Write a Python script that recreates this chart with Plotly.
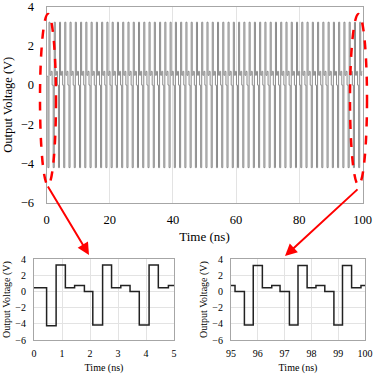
import numpy as np
import plotly.graph_objects as go

# one period of the output waveform
levels = [-4.2, 3.2, 0.5, 0.7, 0.0]
seg_ns = 1 / 3
first_edge = 0.45
start_level = 0.45

# zoomed panel 0-5 ns: step edges and levels
t_left = [0, 0.45, 0.79, 1.12, 1.45, 1.8, 2.1, 2.45, 2.77, 3.1, 3.43, 3.76, 4.11, 4.44, 4.8, 5.0]
v_left = [0.45, -4.25, 3.25, 0.45, 0.72, 0.0, -4.15, 3.25, 0.45, 0.72, 0.0, -4.15, 3.25, 0.45, 0.72, 0.72]

# zoomed panel 95-100 ns
t_right = [95.0, 95.15, 95.5, 95.83, 96.17, 96.52, 96.83, 97.18, 97.5, 97.84, 98.17, 98.5, 98.84, 99.16, 99.5, 99.85, 100.0]
v_right = [0.72, 0.0, -4.15, 3.2, 0.45, 0.72, 0.0, -4.15, 3.2, 0.45, 0.72, 0.0, -4.15, 3.2, 0.45, 0.72, 0.72]

n_seg = int((100 - first_edge) / seg_ns) + 1
t_main = [0.0] + [first_edge + i * seg_ns for i in range(n_seg)] + [100.0]
v_main = [start_level] + [levels[i % len(levels)] for i in range(n_seg)] + [levels[(n_seg - 1) % len(levels)]]

FONT = "Liberation Serif"
W = 374

fig = go.Figure()
fig.add_trace(go.Scatter(x=t_main, y=v_main, mode="lines", line=dict(shape="hv", color="#8c8c8c", width=1),
                         xaxis="x", yaxis="y", hoverinfo="skip"))
fig.add_trace(go.Scatter(x=t_left, y=v_left, mode="lines", line=dict(shape="hv", color="#222", width=1.5),
                         xaxis="x2", yaxis="y2"))
fig.add_trace(go.Scatter(x=t_right, y=v_right, mode="lines", line=dict(shape="hv", color="#222", width=1.5),
                         xaxis="x3", yaxis="y3"))

def px_x(p):
    return p / W

def px_y(p):
    return 1 - p / W

axis_common = dict(showline=True, linecolor="#a6a6a6", linewidth=1, mirror=True, zeroline=False,
                   gridcolor="#e3e3e3", ticks="", color="#000", automargin=False,
                   ticklabeloverflow="allow")

fig.update_layout(
    width=W, height=W, margin=dict(l=0, r=0, t=0, b=0, autoexpand=False),
    paper_bgcolor="white", plot_bgcolor="white", showlegend=False,
    font=dict(family=FONT, size=11, color="#000"),
    xaxis=dict(domain=[px_x(46.5), px_x(362.5)], range=[0, 100], dtick=20, showgrid=True, anchor="y",
               title=dict(text="Time (ns)", font=dict(size=13), standoff=5), tickfont=dict(size=12.5),
               ticklabelstandoff=5, **axis_common),
    yaxis=dict(domain=[px_y(203), px_y(6.5)], range=[-6, 4], dtick=2, showgrid=False, anchor="x",
               title=dict(text="Output Voltage (V)", font=dict(size=12.5), standoff=5), tickfont=dict(size=12.5),
               ticklabelstandoff=9, **axis_common),
    xaxis2=dict(domain=[px_x(34), px_x(174)], range=[0, 5], dtick=1, showgrid=True, anchor="y2",
                title=dict(text="Time (ns)", font=dict(size=10), standoff=5), tickfont=dict(size=10),
                ticklabelstandoff=4, **axis_common),
    yaxis2=dict(domain=[px_y(340), px_y(259)], range=[-6, 4], dtick=2, showgrid=True, anchor="x2",
                title=dict(text="Output Voltage (V)", font=dict(size=10), standoff=2), tickfont=dict(size=10),
                ticklabelstandoff=5, **axis_common),
    xaxis3=dict(domain=[px_x(231), px_x(365)], range=[95, 100], dtick=1, showgrid=True, anchor="y3",
                title=dict(text="Time (ns)", font=dict(size=10), standoff=5), tickfont=dict(size=10),
                ticklabelstandoff=4, **axis_common),
    yaxis3=dict(domain=[px_y(340), px_y(259)], range=[-6, 4], dtick=2, showgrid=True, anchor="x3",
                title=dict(text="Output Voltage (V)", font=dict(size=10), standoff=2), tickfont=dict(size=10),
                ticklabelstandoff=5, **axis_common),
)

red = "#ff0000"
for x0, x1 in [(40, 56), (350, 367)]:
    fig.add_shape(type="circle", xref="paper", yref="paper",
                  x0=px_x(x0), x1=px_x(x1), y0=px_y(185), y1=px_y(14),
                  line=dict(color=red, width=2.5, dash="dash"))

# arrows from ellipses to the zoomed panels
for head, tail in [((89, 255), (47, 185)), ((285, 256), (359, 188))]:
    fig.add_annotation(x=px_x(head[0]), y=px_y(head[1]), xref="paper", yref="paper",
                       ax=tail[0] - head[0], ay=tail[1] - head[1], axref="pixel", ayref="pixel",
                       showarrow=True, arrowhead=2, arrowsize=1.2, arrowwidth=2, arrowcolor=red, text="")

# page body has a default 8px margin; drop it so the figure fills the window
fig.write_html("out.html", config={"displayModeBar": False},
               post_script="document.body.style.margin='0';")
